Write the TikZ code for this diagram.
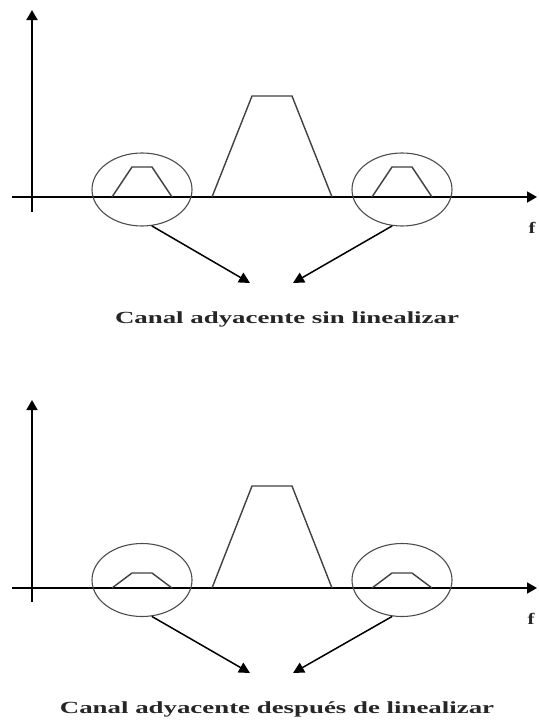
\documentclass[tikz,border=0pt]{standalone}
\usepackage{fontspec}
\setmainfont{Liberation Serif}
\usepackage{tikz}
\usetikzlibrary{arrows.meta,shapes.geometric}

\begin{document}
\begin{tikzpicture}[
  x=1pt, y=-1pt,
  ax/.style={line width=1.8pt, -{Triangle[length=10pt, width=11pt]}},
  sig/.style={line width=1.4pt, draw=black!75, line join=miter},
  ring/.style={draw=black!70, line width=1.1pt, ellipse, minimum width=100pt, minimum height=73pt, inner sep=0pt},
  ar/.style={line width=1.5pt, -{Triangle[length=11pt, width=11pt]}},
  lbl/.style={font=\fontsize{17}{20}\selectfont\bfseries, text=black!85, xscale=1.58, transform shape, inner sep=0pt},
  flbl/.style={font=\fontsize{16}{18}\selectfont\bfseries, text=black!85, xscale=1.3, transform shape, inner sep=0pt}
]
\useasboundingbox (0,0) rectangle (538,720);

% --- sin linealizar
\draw[ax] (32,212) -- (32,10);
\draw[ax] (12,197) -- (537,197);
\draw[sig] (212,197) -- (252,96) -- (292,96) -- (332,197);
\draw[sig] (112,197) -- (132,167) -- (152,167) -- (172,197);
\draw[sig] (372,197) -- (392,167) -- (412,167) -- (432,197);
\node[ring] (eL1) at (142,189.5) {};
\node[ring] (eR1) at (402,189.5) {};
\node[flbl] (f1) at (532,228) {f};
\coordinate (pL1) at (250,283);
\coordinate (pR1) at (293,283);
\draw[ar] (eL1.-75) -- (pL1);
\draw[ar] (eR1.-105) -- (pR1);
\node[lbl, anchor=base] (t1) at (287,323) {Canal adyacente sin linealizar};

% --- despues de linealizar
\draw[ax] (32,602) -- (32,400);
\draw[ax] (12,588) -- (537,588);
\draw[sig] (212,588) -- (252,486) -- (292,486) -- (332,588);
\draw[sig] (112,588) -- (132,573) -- (152,573) -- (172,588);
\draw[sig] (372,588) -- (392,573) -- (412,573) -- (432,588);
\node[ring] (eL2) at (142,580) {};
\node[ring] (eR2) at (402,580) {};
\node[flbl] (f2) at (531,619) {f};
\coordinate (pL2) at (250,673);
\coordinate (pR2) at (293,673);
\draw[ar] (eL2.-75) -- (pL2);
\draw[ar] (eR2.-105) -- (pR2);
\node[lbl, anchor=base] (t2) at (277,713) {Canal adyacente después de  linealizar};
\end{tikzpicture}
\end{document}
